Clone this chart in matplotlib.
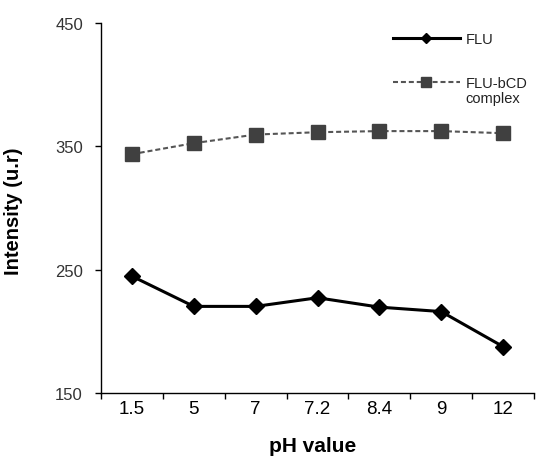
import matplotlib
matplotlib.use("Agg")
import matplotlib.pyplot as plt
import numpy as np

plt.rcParams['font.family'] = ['Liberation Sans', 'DejaVu Sans']

ph_labels = ["1.5", "5", "7", "7.2", "8.4", "9", "12"]
flu = [244.7, 220.2, 220.2, 227.2, 219.6, 216.0, 187.6]
complex_vals = [343.6, 352.5, 359.5, 361.4, 362.3, 362.3, 360.6]
y_ticks = [150, 250, 350, 450]

fig = plt.figure(figsize=(5.38, 4.6), dpi=100)
ax = fig.add_axes([0.1877, 0.1435, 0.8049, 0.8045])

x = np.arange(len(ph_labels))
ax.plot(x, flu, color='black', lw=2.2, marker='D', ms=8, mfc='black', mec='black', label='FLU')
ax.plot(x, complex_vals, color='#555555', lw=1.5, ls=(0, (2.4, 1.4)), marker='s', ms=9.5,
        mfc='#404040', mec='#404040', label='FLU-bCD')

ax.set_xlim(-0.5, len(ph_labels) - 0.5)
ax.set_ylim(150, 450)
ax.set_yticks(y_ticks)
ax.set_yticklabels([str(v) for v in y_ticks], fontsize=12, color='#333333')
ax.set_xticks(x)
ax.set_xticklabels(ph_labels, fontsize=13.5)
ax.tick_params(axis='x', length=0, pad=5)
ax.set_xticks(np.arange(len(ph_labels) + 1) - 0.5, minor=True)
ax.tick_params(axis='x', which='minor', length=4, width=1)
ax.tick_params(axis='y', length=4, width=1, pad=9)

for s in ['top', 'right']:
    ax.spines[s].set_visible(False)
for s in ['left', 'bottom']:
    ax.spines[s].set_linewidth(1)

fig.text(14 / 538, 0.1435 + 0.8045 / 2 - 0.005, 'Intensity (u.r)', rotation=90, fontsize=14.5,
         fontweight='bold', ha='center', va='center')
fig.text(313 / 538, 1 - 452 / 460, 'pH value', fontsize=15, fontweight='bold',
         ha='center', va='baseline')

leg = ax.legend(loc='upper left', bbox_to_anchor=(0.66, 0.99), frameon=False,
                fontsize=10.5, handlelength=4.6, handletextpad=0.4, labelspacing=2.05,
                borderaxespad=0, markerscale=0.7)
fig.canvas.draw()
t2 = leg.get_texts()[1]
bb = t2.get_window_extent()
x0, y0 = fig.transFigure.inverted().transform((bb.x0, bb.y0))
fig.text(x0, y0 - 0.001, 'complex', fontsize=10.5, ha='left', va='top', color='#222222')
for t in leg.get_texts():
    t.set_color('#222222')
fig.savefig('out.png', dpi=100)
